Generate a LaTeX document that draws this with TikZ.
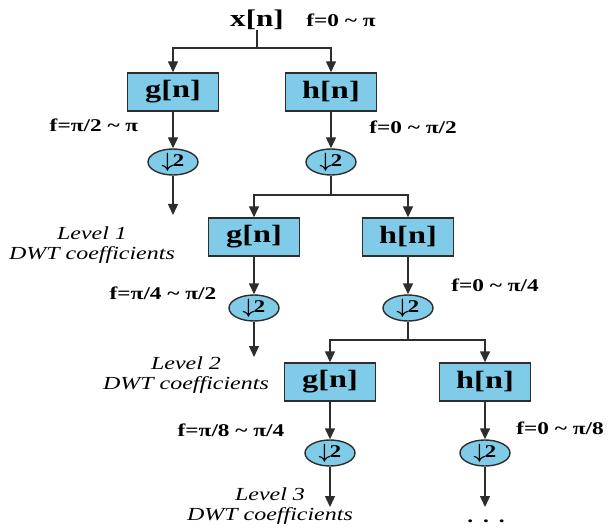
\documentclass[tikz,border=0pt]{standalone}
\usepackage{fontspec}
\setmainfont{Liberation Serif}[FakeStretch=1.3]
\usepackage{xcolor}
\definecolor{filtblue}{RGB}{128,204,232}
\definecolor{edgegray}{RGB}{45,45,45}
\usetikzlibrary{arrows.meta, shapes.geometric}
\newcommand{\dtwo}{{\fontsize{22}{22}\selectfont\boldmath$\downarrow$}\kern-1bp\raisebox{0.5bp}{2}}

\begin{document}
\begin{tikzpicture}[x=1bp, y=-1bp,
  filt/.style={draw=edgegray, line width=1.4bp, fill=filtblue, minimum width=91bp, minimum height=38bp, inner sep=0pt, font=\fontsize{25}{28}\selectfont\bfseries},
  dsamp/.style={ellipse, draw=edgegray, line width=1.4bp, fill=filtblue, minimum width=50bp, minimum height=26bp, inner sep=0pt, font=\fontsize{18}{20}\selectfont\bfseries},
  band/.style={font=\fontsize{18}{20}\selectfont\bfseries, inner sep=0pt},
  lvl/.style={font=\fontsize{18.5}{20}\selectfont\itshape, align=center, inner sep=0pt},
  wire/.style={edgegray, line width=1.4bp},
  flow/.style={wire, -{Triangle[length=11bp, width=10bp]}}
]
\useasboundingbox (0,0) rectangle (612,531);
\node[band, font=\fontsize{24}{26}\selectfont\bfseries] (xn) at (257,20) {x[n]};
\node[band] (bx) at (341,20) {f=0 \textasciitilde\ π};
\coordinate (j0) at (257,48);
\node[filt] (g1) at (173,92) {g[n]};
\node[filt] (h1) at (331,92) {h[n]};
\node[dsamp] (d1g) at (173,162) {\dtwo};
\node[dsamp] (d1h) at (331,162) {\dtwo};
\node[band] (b1g) at (94,125) {f=π/2 \textasciitilde\ π};
\node[band] (b1h) at (413,127) {f=0 \textasciitilde\ π/2};
\coordinate (o1) at (173,215);
\node[lvl] (lv1) at (92,245) {Level 1\\DWT coefficients};
\coordinate (j1) at (331,195);
\node[filt] (g2) at (254,237) {g[n]};
\node[filt] (h2) at (408,237) {h[n]};
\node[dsamp] (d2g) at (254,308) {\dtwo};
\node[dsamp] (d2h) at (408,308) {\dtwo};
\node[band] (b2g) at (163,293) {f=π/4 \textasciitilde\ π/2};
\node[band] (b2h) at (495,285) {f=0 \textasciitilde\ π/4};
\coordinate (o2) at (254,357);
\node[lvl] (lv2) at (186,375) {Level 2\\DWT coefficients};
\coordinate (j2) at (408,340);
\node[filt] (g3) at (330,382) {g[n]};
\node[filt] (h3) at (485,382) {h[n]};
\node[dsamp] (d3g) at (330,453) {\dtwo};
\node[dsamp] (d3h) at (485,453) {\dtwo};
\node[band] (b3g) at (231,430) {f=π/8 \textasciitilde\ π/4};
\node[band] (b3h) at (560,428) {f=0 \textasciitilde\ π/8};
\coordinate (o3g) at (330,507);
\coordinate (o3h) at (485,507);
\node[lvl] (lv3) at (270,506) {Level 3\\DWT coefficients};
\node[band] (more) at (486,521) {.\hspace{10bp}.\hspace{10bp}.};
\draw[wire] (xn.south) -- (j0);
\draw[flow] (j0) -| (g1.north);
\draw[flow] (j0) -| (h1.north);
\draw[flow] (g1.south) -- (d1g.north);
\draw[flow] (h1.south) -- (d1h.north);
\draw[flow] (d1g.south) -- (o1);
\draw[wire] (d1h.south) -- (j1);
\draw[flow] (j1) -| (g2.north);
\draw[flow] (j1) -| (h2.north);
\draw[flow] (g2.south) -- (d2g.north);
\draw[flow] (h2.south) -- (d2h.north);
\draw[flow] (d2g.south) -- (o2);
\draw[wire] (d2h.south) -- (j2);
\draw[flow] (j2) -| (g3.north);
\draw[flow] (j2) -| (h3.north);
\draw[flow] (g3.south) -- (d3g.north);
\draw[flow] (h3.south) -- (d3h.north);
\draw[flow] (d3g.south) -- (o3g);
\draw[flow] (d3h.south) -- (o3h);
\end{tikzpicture}
\end{document}
